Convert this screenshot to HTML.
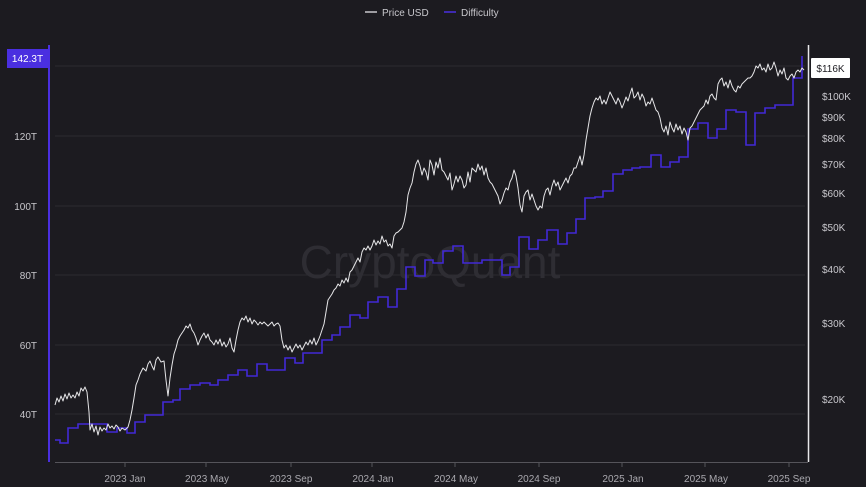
<!DOCTYPE html>
<html><head><meta charset="utf-8"><style>
html,body{margin:0;padding:0;background:#1c1b20;}
svg{display:block;font-family:"Liberation Sans",sans-serif;}
</style></head><body>
<svg width="866" height="487" viewBox="0 0 866 487">
<rect width="866" height="487" fill="#1c1b20"/>
<g stroke="#2c2b31" stroke-width="1">
<line x1="55" y1="66" x2="805" y2="66"/><line x1="55" y1="136" x2="805" y2="136"/>
<line x1="55" y1="206" x2="805" y2="206"/><line x1="55" y1="275" x2="805" y2="275"/>
<line x1="55" y1="345" x2="805" y2="345"/><line x1="55" y1="414" x2="805" y2="414"/>
</g>
<text x="430" y="278" font-size="46" fill="#2e2d33" text-anchor="middle">CryptoQuant</text>
<line x1="55" y1="462.5" x2="808" y2="462.5" stroke="#55545a"/>
<g stroke="#55545a"><line x1="125" y1="462" x2="125" y2="467"/><line x1="206" y1="462" x2="206" y2="467"/><line x1="291" y1="462" x2="291" y2="467"/><line x1="372" y1="462" x2="372" y2="467"/><line x1="455" y1="462" x2="455" y2="467"/><line x1="539" y1="462" x2="539" y2="467"/><line x1="622" y1="462" x2="622" y2="467"/><line x1="705" y1="462" x2="705" y2="467"/><line x1="789" y1="462" x2="789" y2="467"/></g>
<g font-size="10" fill="#a9a8ae" text-anchor="middle">
<text x="125" y="482">2023 Jan</text><text x="207" y="482">2023 May</text><text x="291" y="482">2023 Sep</text><text x="373" y="482">2024 Jan</text><text x="456" y="482">2024 May</text><text x="539" y="482">2024 Sep</text><text x="623" y="482">2025 Jan</text><text x="706" y="482">2025 May</text><text x="789" y="482">2025 Sep</text>
</g>
<g font-size="10" fill="#c8c7cc" text-anchor="end">
<text x="37" y="140">120T</text><text x="37" y="210">100T</text><text x="37" y="279">80T</text><text x="37" y="349">60T</text><text x="37" y="418">40T</text>
</g>
<g font-size="10" fill="#c8c7cc" text-anchor="start">
<text x="822" y="100">$100K</text><text x="822" y="121">$90K</text><text x="822" y="142">$80K</text><text x="822" y="168">$70K</text><text x="822" y="197">$60K</text><text x="822" y="231">$50K</text><text x="822" y="273">$40K</text><text x="822" y="327">$30K</text><text x="822" y="403">$20K</text>
</g>
<line x1="49" y1="45" x2="49" y2="462" stroke="#4a2fe0" stroke-width="2"/>
<line x1="808.5" y1="45" x2="808.5" y2="462" stroke="#e8e8ea" stroke-width="1.5"/>
<polyline fill="none" stroke="#4129d6" stroke-width="1.6" points="55,440 60,440 60,443 68,443 68,428 78,428 78,424 107,424 107,432 117,432 117,428 127,428 127,433 135,433 135,422 145,422 145,415 163,415 163,402 173,402 173,400 180,400 180,389 190,389 190,385 200,385 200,383 210,383 210,385 218,385 218,380 228,380 228,375 238,375 238,370 247,370 247,376 257,376 257,364 267,364 267,370 285,370 285,358 295,358 295,363 303,363 303,353 322,353 322,340 332,340 332,335 340,335 340,327 350,327 350,315 360,315 360,318 368,318 368,302 378,302 378,297 388,297 388,307 397,307 397,289 406,289 406,267 415,267 415,276 425,276 425,260 433,260 433,263 443,263 443,251 453,251 453,246 463,246 463,263 482,263 482,260 502,260 502,275 510,275 510,267 519,267 519,237 529,237 529,249 538,249 538,240 547,240 547,230 558,230 558,244 567,244 567,233 576,233 576,219 585,219 585,198 595,198 595,197 603,197 603,191 613,191 613,174 623,174 623,170 632,170 632,168 640,168 640,167 651,167 651,155 661,155 661,167 670,167 670,162 679,162 679,157 688,157 688,129 698,129 698,123 708,123 708,138 717,138 717,129 726,129 726,110 736,110 736,112 746,112 746,145 755,145 755,113 765,113 765,108 775,108 775,105 793,105 793,78 802,78 802,56"/>
<polyline fill="none" stroke="#e6e6e8" stroke-width="1" stroke-linejoin="round" points="55,405 57,398 59,402 61,396 63,401 65,394 67,399 69,393 71,398 73,395 75,398 77,392 79,396 81,388 83,391 85,387 87,392 89,412 90,430 92,424 94,432 96,426 98,435 100,427 102,431 104,428 106,430 108,424 110,428 112,426 114,429 116,425 118,427 120,431 122,428 125,430 128,427 130,420 132,410 134,398 136,385 138,380 140,374 143,368 146,371 148,364 150,361 152,366 154,370 156,360 158,357 161,362 164,361 166,380 168,396 170,378 172,365 174,354 176,348 178,340 180,336 182,333 184,330 186,326 188,328 190,324 192,330 194,333 196,338 198,345 200,340 202,336 204,333 206,338 208,334 210,340 212,342 214,345 216,340 218,344 220,339 222,346 224,342 226,347 228,344 230,338 232,348 234,352 236,340 238,330 240,322 242,318 244,320 246,316 248,322 250,318 252,324 254,320 256,322 258,325 260,322 262,324 264,322 266,324 268,326 270,324 272,322 274,326 276,324 278,323 280,326 282,340 284,348 286,345 288,350 290,346 292,352 294,348 296,344 298,348 300,345 302,350 304,346 306,342 308,345 310,340 312,344 314,338 316,345 318,341 320,336 322,330 324,324 326,312 328,300 330,297 332,294 334,290 336,288 338,284 340,286 342,280 344,283 346,278 348,282 350,272 352,270 354,266 356,262 358,258 360,262 362,252 364,248 366,250 368,246 370,250 372,246 374,240 376,245 378,241 380,244 382,236 384,242 386,240 388,246 390,244 392,248 394,236 396,233 398,232 400,230 402,228 404,222 406,212 408,195 410,188 412,183 414,172 416,164 418,160 420,166 422,175 424,168 426,172 428,180 430,160 432,165 434,175 436,162 438,168 440,158 442,170 444,172 446,176 448,180 450,173 452,190 454,184 456,176 458,182 460,176 462,180 464,188 466,185 468,172 470,182 472,168 474,170 476,172 478,164 480,170 482,166 484,175 486,168 488,178 490,182 492,184 494,188 496,192 498,196 500,204 502,200 504,193 506,188 508,190 510,182 512,178 514,170 516,176 518,188 520,205 522,212 524,196 526,192 528,190 530,200 532,194 534,200 536,206 538,210 540,206 542,208 544,196 546,190 548,188 550,195 552,186 554,180 556,186 558,182 560,190 562,186 564,182 566,178 568,183 570,176 572,174 574,168 576,168 578,162 580,156 582,165 584,155 586,140 588,128 590,116 592,108 594,102 596,98 598,100 600,96 602,104 604,100 606,104 608,98 610,92 612,96 614,100 616,104 618,98 620,102 622,108 624,103 626,97 628,101 630,94 632,88 634,98 636,96 638,92 640,100 642,94 644,98 646,106 648,102 650,104 652,98 654,104 656,110 658,112 660,118 662,128 664,132 666,126 668,135 670,122 672,128 674,132 676,124 678,130 680,126 682,134 684,128 686,132 688,140 690,128 692,126 694,122 696,118 698,114 700,110 702,108 704,106 706,100 708,104 710,96 712,94 714,98 716,100 718,84 720,80 722,78 724,86 726,82 728,88 730,80 732,86 734,90 736,92 738,86 740,88 742,84 744,82 746,80 748,78 750,78 752,76 754,72 756,66 758,68 760,64 762,70 764,68 766,72 768,64 770,70 772,68 774,62 776,68 778,76 780,70 782,74 784,68 786,78 788,80 790,76 792,74 794,78 796,72 798,70 800,72 802,68 804,70"/>
<line x1="365" y1="12" x2="377" y2="12" stroke="#c8c7cc" stroke-width="1.5"/>
<text x="382" y="16" font-size="10" fill="#c8c7cc">Price USD</text>
<line x1="444" y1="12" x2="456" y2="12" stroke="#4a2fe0" stroke-width="1.5"/>
<text x="461" y="16" font-size="10" fill="#c8c7cc">Difficulty</text>
<rect x="7" y="49" width="41" height="19" fill="#4a2fe0"/>
<text x="27.5" y="62" font-size="10" fill="#ffffff" text-anchor="middle">142.3T</text>
<rect x="811" y="58" width="39" height="20" fill="#ffffff" rx="1"/>
<text x="830.5" y="72" font-size="10" fill="#1c1b20" text-anchor="middle">$116K</text>
</svg>
</body></html>
